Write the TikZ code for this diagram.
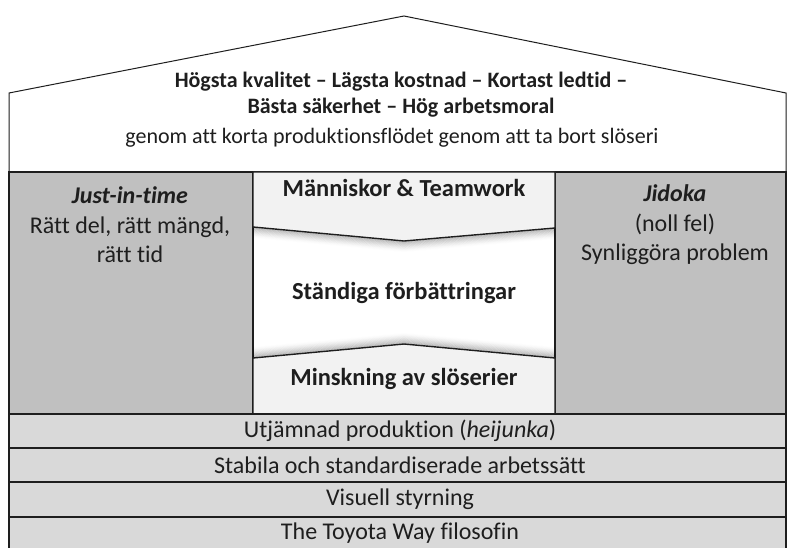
\documentclass[tikz,border=0pt]{standalone}
\usepackage{fontspec}
\setmainfont[Ligatures=NoCommon]{Carlito}
\usetikzlibrary{calc}
\definecolor{pillargray}{HTML}{C0C0C0}
\definecolor{bargray}{HTML}{D9D9D9}
\definecolor{lightbox}{HTML}{F2F2F2}
\definecolor{inkc}{HTML}{1E1E1E}
\begin{document}
\begin{tikzpicture}[x=1pt,y=-1pt,
  edge/.style={draw=inkc,line width=1.4pt},
  roofline/.style={draw=inkc,line width=1pt},
  pillar/.style={edge,fill=pillargray},
  barbox/.style={edge,fill=bargray},
  cbox/.style={edge,fill=lightbox},
  txt/.style={text=inkc,font=\fontsize{22}{26}\selectfont,align=center,inner sep=0pt},
  btxt/.style={txt,font=\fontsize{22}{26}\selectfont\bfseries},
  ctxt/.style={txt,font=\fontsize{24.5}{28}\selectfont\bfseries},
  ptxt/.style={txt,font=\fontsize{24}{29.5}\selectfont},
  bartxt/.style={txt,font=\fontsize{24}{28}\selectfont},
]
\useasboundingbox (0,0) rectangle (787,548);
\fill[white] (0,0) rectangle (787,548);
% roof
\coordinate (eL) at (9,93);
\coordinate (apex) at (404,16);
\coordinate (eR) at (786,93);
\fill[white] (9,172) -- (eL) -- (apex) -- (eR) -- (786,172) -- cycle;
\draw[roofline] (9,172) -- (eL) -- (apex) -- (eR) -- (786,172);
% pillars
\path[pillar] (9,172) rectangle (253,414);
\path[pillar] (555,172) rectangle (786,414);
\path[edge,fill=white] (253,172) rectangle (555,414);
% shadows
\begin{scope}
\clip (253,172) rectangle (555,414);
\foreach \i in {1,...,12}{
  \pgfmathsetmacro{\op}{0.22*(1-\i/13)^1.6}
  \draw[black,opacity=\op,line width=1.2pt] (253,{227+\i*0.9}) -- (404,{241+\i*0.9}) -- (555,{228+\i*0.9});
  \draw[black,opacity=\op,line width=1.2pt] (253,{358-\i*0.9}) -- (404,{344-\i*0.9}) -- (555,{358-\i*0.9});
}
\end{scope}
\path[cbox] (253,172) -- (555,172) -- (555,228) -- (404,241) -- (253,227) -- cycle;
\path[cbox] (253,358) -- (404,344) -- (555,358) -- (555,414) -- (253,414) -- cycle;
% bars
\path[barbox] (9,414) rectangle (786,448);
\path[barbox] (9,448) rectangle (786,482);
\path[barbox] (9,482) rectangle (786,517);
\path[barbox] (9,517) rectangle (786,552);
% texts
\node[btxt] (goal1) at (401,82) {Högsta kvalitet – Lägsta kostnad – Kortast ledtid –};
\node[btxt] (goal2) at (401,108) {Bästa säkerhet – Hög arbetsmoral};
\node[txt] (goal3) at (392,138) {genom att korta produktionsflödet genom att ta bort slöseri};
\node[ptxt] (jit) at (130,225) {\textbf{\textit{Just-in-time}}\\Rätt del, rätt mängd,\\rätt tid};
\node[ptxt] (jidoka) at (675,225) {\textbf{\textit{Jidoka}}\\(noll fel)\\Synliggöra problem};
\node[ctxt] (team) at (404,188) {Människor \& Teamwork};
\node[ctxt] (kaizen) at (404,293) {Ständiga förbättringar};
\node[ctxt] (waste) at (404,379) {Minskning av slöserier};
\node[bartxt] (b1) at (400,431) {Utjämnad produktion (\textit{heijunka})};
\node[bartxt] (b2) at (400,465) {Stabila och standardiserade arbetssätt};
\node[bartxt] (b3) at (400,499) {Visuell styrning};
\node[bartxt] (b4) at (400,533) {The Toyota Way filosofin};
\end{tikzpicture}
\end{document}
